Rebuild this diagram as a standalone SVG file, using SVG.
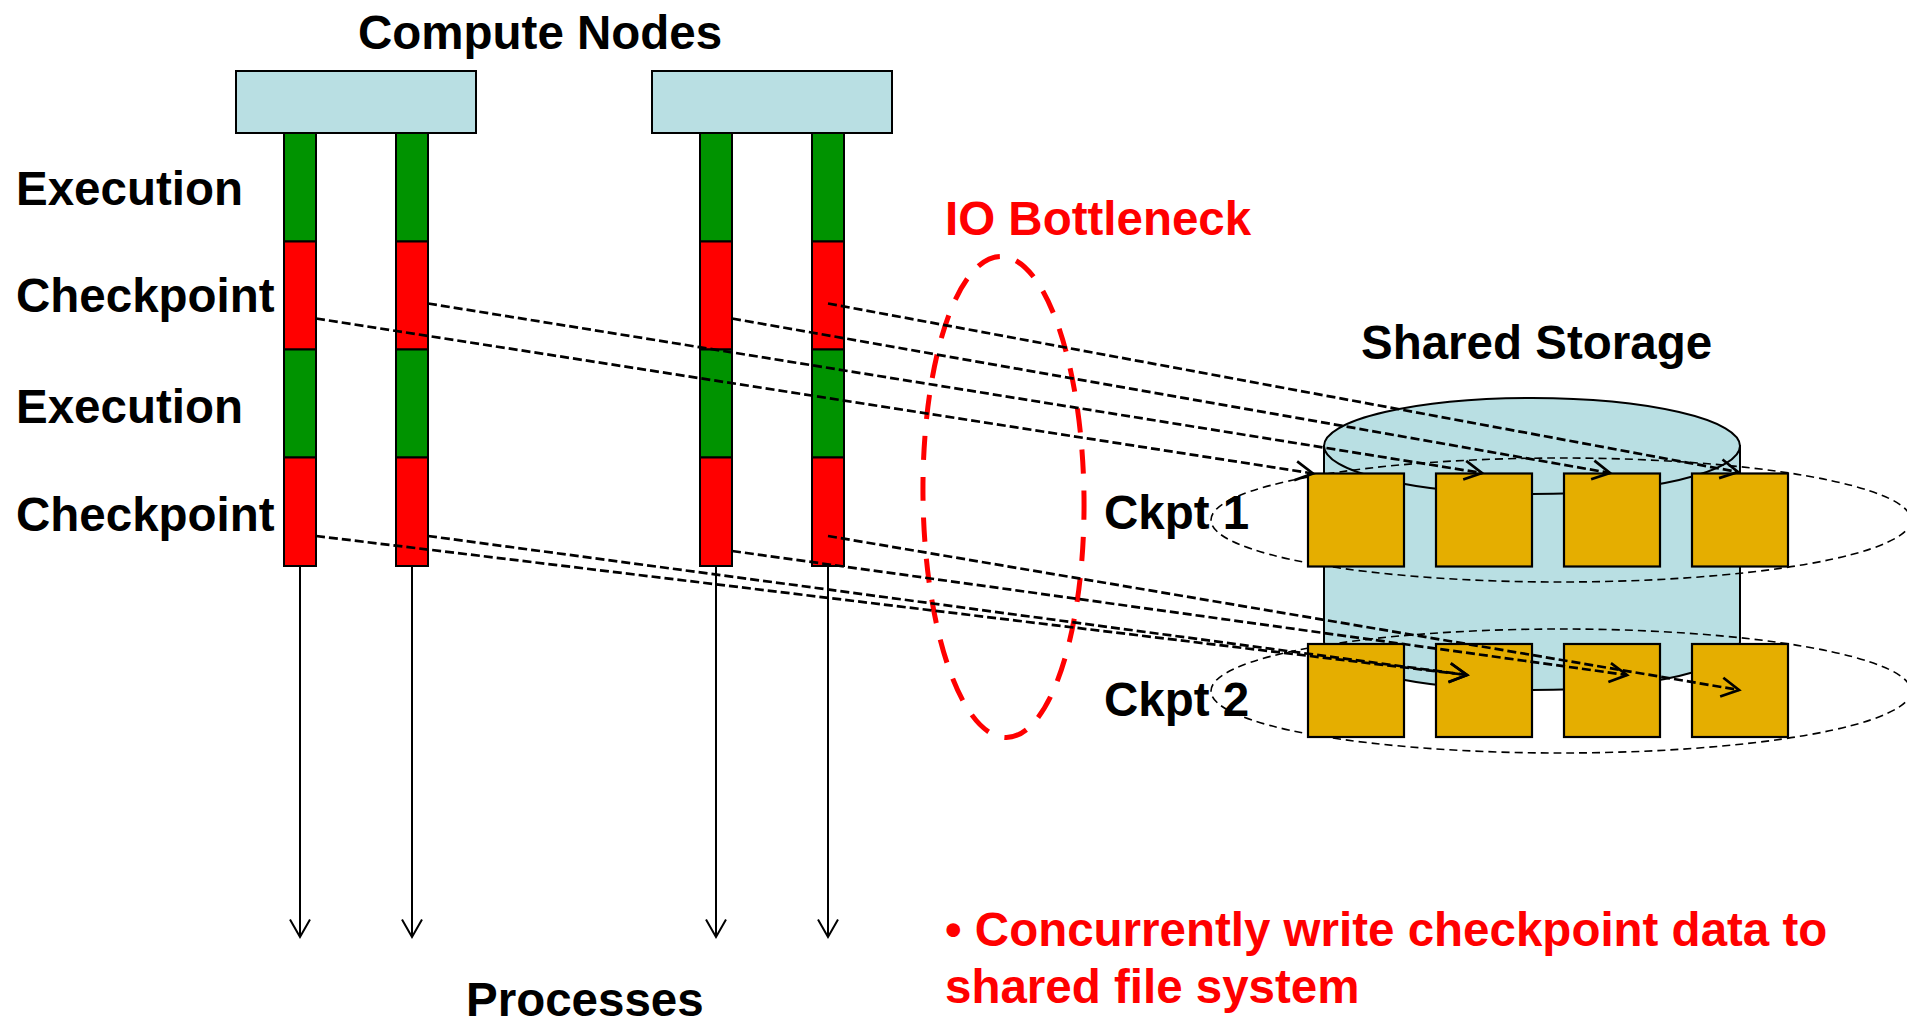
<svg xmlns="http://www.w3.org/2000/svg" width="1907" height="1029" viewBox="0 0 1907 1029">
  <style>
    .lbl { font-family: "Liberation Sans", Arial, sans-serif; font-weight: bold; font-size: 47.5px; fill: #000; }
    .red { fill: #ff0000; }
    .node { fill: #b9dfe3; stroke: #000; stroke-width: 2; }
    .exec { fill: #009300; stroke: #000; stroke-width: 2; }
    .ckpt { fill: #ff0000; stroke: #000; stroke-width: 2; }
    .blk { fill: #e5ae00; stroke: #000; stroke-width: 2.2; }
    .proc { fill: none; stroke: #000; stroke-width: 2; marker-end: url(#vhead); }
    .flow { fill: none; stroke: #000; stroke-width: 2.7; stroke-dasharray: 9 4; marker-end: url(#vflow); }
    .ring { fill: none; stroke: #000; stroke-width: 1.6; stroke-dasharray: 8 5; }
  </style>
  <defs>
    <marker id="vhead" markerUnits="userSpaceOnUse" viewBox="-20 -12 24 24" refX="0" refY="0" markerWidth="24" markerHeight="24" orient="auto" overflow="visible">
      <path d="M-17.5,-10 L0,0 L-17.5,10" fill="none" stroke="#000" stroke-width="2"/>
    </marker>
    <marker id="vflow" markerUnits="userSpaceOnUse" viewBox="-20 -12 24 24" refX="0" refY="0" markerWidth="24" markerHeight="24" orient="auto" overflow="visible">
      <path d="M-17.5,-9.5 L0,0 L-17.5,9.5" fill="none" stroke="#000" stroke-width="2.7"/>
    </marker>
  </defs>

  <!-- headings -->
  <text class="lbl" x="358" y="48.5">Compute Nodes</text>
  <text class="lbl" x="16" y="205">Execution</text>
  <text class="lbl" x="16" y="312">Checkpoint</text>
  <text class="lbl" x="16" y="423">Execution</text>
  <text class="lbl" x="16" y="531">Checkpoint</text>
  <text class="lbl red" x="945" y="235">IO Bottleneck</text>
  <text class="lbl" x="1361" y="359">Shared Storage</text>
  <text class="lbl" x="466" y="1016">Processes</text>

  <!-- compute node A -->
  <g id="node-a">
    <rect class="node" x="236" y="71" width="240" height="62"/>
  </g>
  <!-- compute node B -->
  <g id="node-b">
    <rect class="node" x="652" y="71" width="240" height="62"/>
  </g>

  <!-- process timelines: execution / checkpoint phases -->
  <g id="proc-1">
    <rect class="exec" x="284" y="133" width="32" height="108.5"/>
    <rect class="ckpt" x="284" y="241.5" width="32" height="108"/>
    <rect class="exec" x="284" y="349.5" width="32" height="108"/>
    <rect class="ckpt" x="284" y="457.5" width="32" height="108.5"/>
  </g>
  <g id="proc-2">
    <rect class="exec" x="396" y="133" width="32" height="108.5"/>
    <rect class="ckpt" x="396" y="241.5" width="32" height="108"/>
    <rect class="exec" x="396" y="349.5" width="32" height="108"/>
    <rect class="ckpt" x="396" y="457.5" width="32" height="108.5"/>
  </g>
  <g id="proc-3">
    <rect class="exec" x="700" y="133" width="32" height="108.5"/>
    <rect class="ckpt" x="700" y="241.5" width="32" height="108"/>
    <rect class="exec" x="700" y="349.5" width="32" height="108"/>
    <rect class="ckpt" x="700" y="457.5" width="32" height="108.5"/>
  </g>
  <g id="proc-4">
    <rect class="exec" x="812" y="133" width="32" height="108.5"/>
    <rect class="ckpt" x="812" y="241.5" width="32" height="108"/>
    <rect class="exec" x="812" y="349.5" width="32" height="108"/>
    <rect class="ckpt" x="812" y="457.5" width="32" height="108.5"/>
  </g>

  <!-- shared storage cylinder -->
  <g id="storage">
    <path d="M1324,446 L1324,642 A208,48 0 0 0 1740,642 L1740,446 Z" fill="#b9dfe3" stroke="#000" stroke-width="2"/>
    <ellipse cx="1532" cy="446" rx="208" ry="48" fill="#b9dfe3" stroke="#000" stroke-width="2"/>
  </g>

  <!-- IO bottleneck marker -->
  <g id="bottleneck">
    <ellipse cx="1003.5" cy="497" rx="80.5" ry="240.5" transform="rotate(-0.7 1003.5 497)" fill="none" stroke="#ff0000" stroke-width="5" stroke-dasharray="24 17"/>
  </g>

  <!-- checkpoint 1 set -->
  <g id="ckpt-1">
    <ellipse class="ring" cx="1561" cy="520" rx="350" ry="62"/>
    <rect class="blk" x="1308" y="473.5" width="96" height="93"/>
    <rect class="blk" x="1436" y="473.5" width="96" height="93"/>
    <rect class="blk" x="1564" y="473.5" width="96" height="93"/>
    <rect class="blk" x="1692" y="473.5" width="96" height="93"/>
    <text class="lbl" x="1104" y="529">Ckpt 1</text>
  </g>

  <!-- checkpoint 2 set -->
  <g id="ckpt-2">
    <ellipse class="ring" cx="1561" cy="691" rx="350" ry="62"/>
    <rect class="blk" x="1308" y="644" width="96" height="93"/>
    <rect class="blk" x="1436" y="644" width="96" height="93"/>
    <rect class="blk" x="1564" y="644" width="96" height="93"/>
    <rect class="blk" x="1692" y="644" width="96" height="93"/>
    <text class="lbl" x="1104" y="716">Ckpt 2</text>
  </g>

  <!-- connectors -->
  <g id="connectors">
    <line class="proc" x1="300" y1="566" x2="300" y2="937"/>
    <line class="proc" x1="412" y1="566" x2="412" y2="937"/>
    <line class="proc" x1="716" y1="566" x2="716" y2="937"/>
    <line class="proc" x1="828" y1="566" x2="828" y2="937"/>

    <line class="flow" x1="316" y1="318.5" x2="1313" y2="473.5"/>
    <line class="flow" x1="428" y1="303.5" x2="1482" y2="473"/>
    <line class="flow" x1="732" y1="318.5" x2="1610" y2="473"/>
    <line class="flow" x1="828" y1="303.5" x2="1738" y2="472"/>

    <line class="flow" x1="316" y1="536" x2="1467" y2="675"/>
    <line class="flow" x1="428" y1="536" x2="1467" y2="675"/>
    <line class="flow" x1="732" y1="551" x2="1627" y2="675"/>
    <line class="flow" x1="828" y1="536" x2="1739" y2="690"/>
  </g>

  <!-- note -->
  <text class="lbl red" x="945" y="946">• Concurrently write checkpoint data to</text>
  <text class="lbl red" x="945" y="1003">shared file system</text>
</svg>
